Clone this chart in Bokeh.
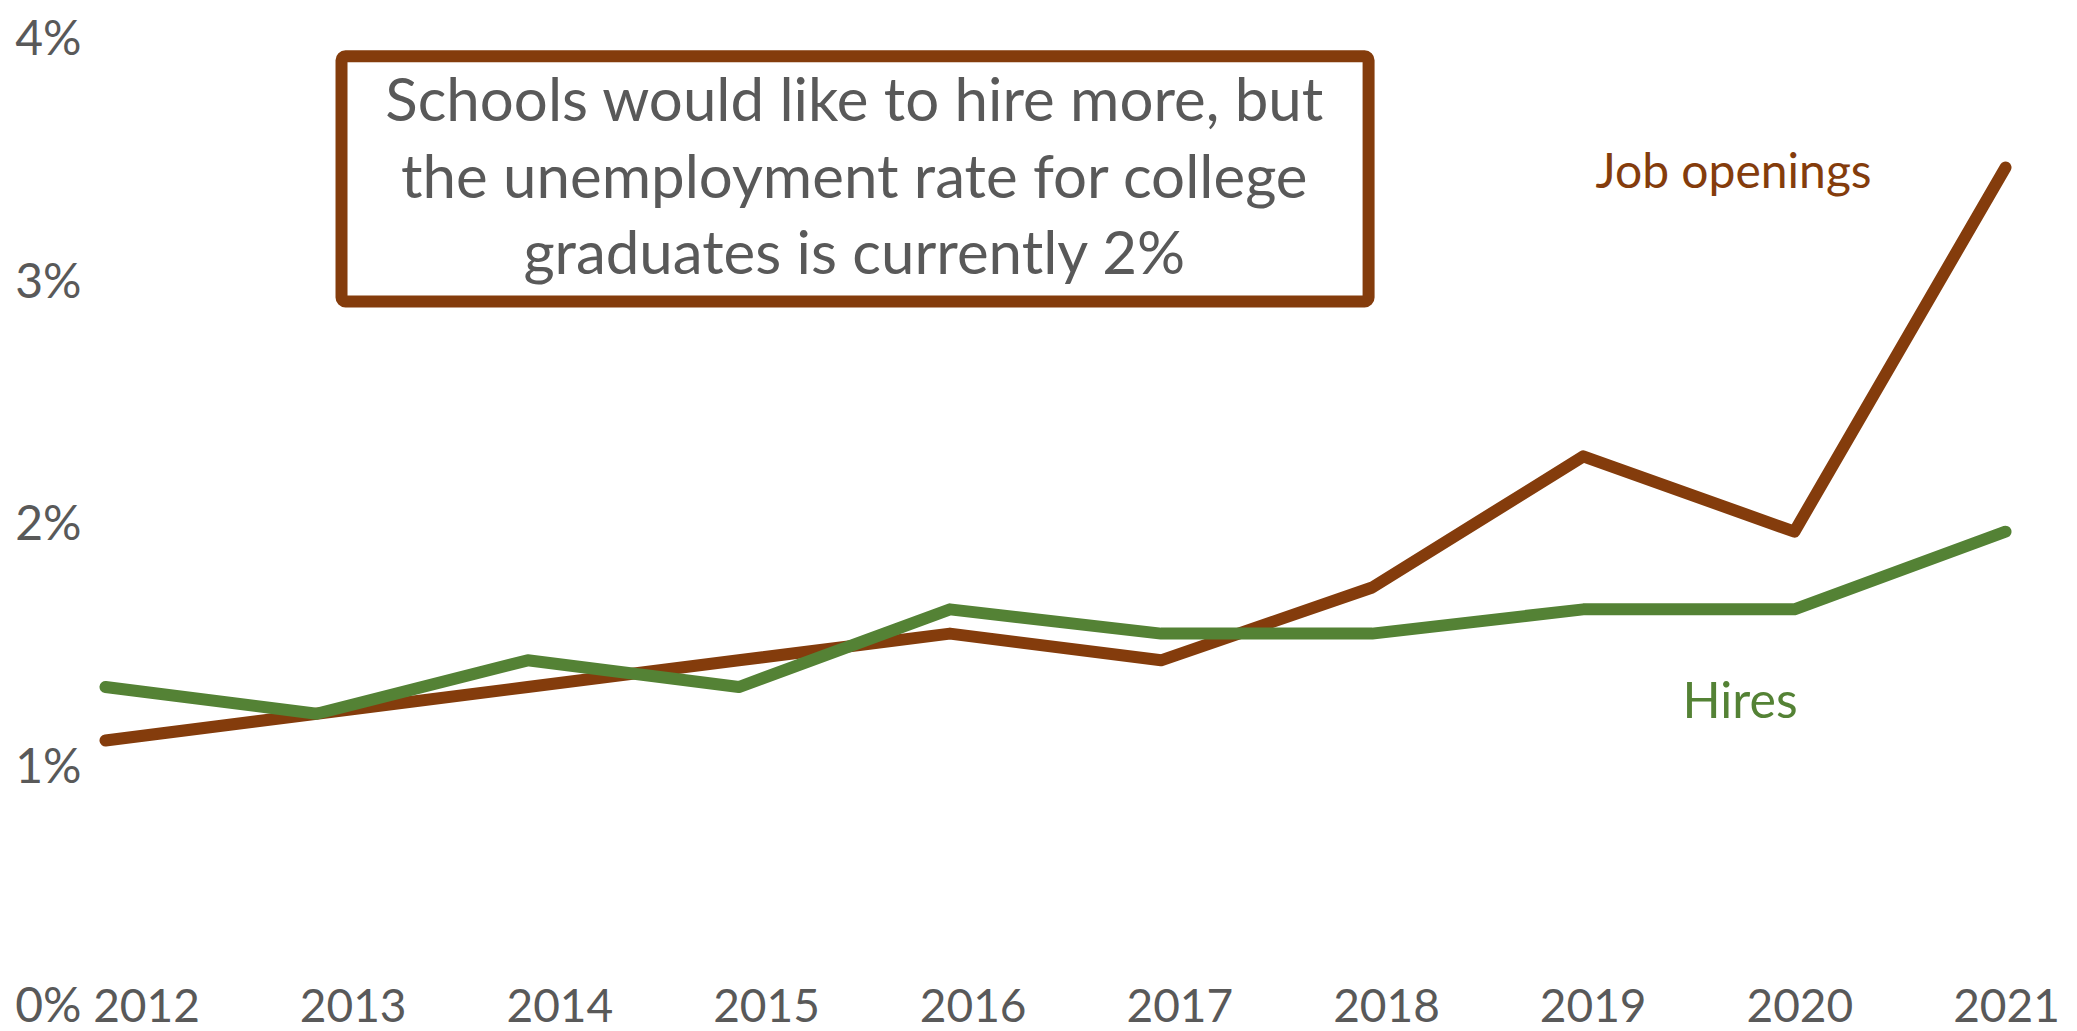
from bokeh.plotting import figure
from bokeh.models import (Range1d, LinearAxis, FixedTicker, PrintfTickFormatter,
                          BoxAnnotation, Label)
from bokeh.embed import file_html
from bokeh.resources import INLINE

# ---- data ----
years = [2012, 2013, 2014, 2015, 2016, 2017, 2018, 2019, 2020, 2021]
job_openings = [1.10, 1.21, 1.32, 1.43, 1.54, 1.43, 1.73, 2.27, 1.96, 3.46]
hires = [1.32, 1.21, 1.43, 1.32, 1.64, 1.54, 1.54, 1.64, 1.64, 1.96]
y_ticks = [0, 1, 2, 3, 4]
note_lines = ["Schools would like to hire more, but",
              "the unemployment rate for college",
              "graduates is currently 2%"]
series_names = ["Job openings", "Hires"]

BROWN = "#843C0C"
GREEN = "#548235"
GREY = "#595959"
FONT = "Lato"

p = figure(width=2077, height=1031, output_backend="svg", toolbar_location=None,
           x_range=Range1d(2011.929, 2021.341), y_range=Range1d(-0.099, 4.148),
           x_axis_type=None, min_border_left=90, min_border_right=0,
           min_border_top=0, min_border_bottom=0)
p.outline_line_color = None
p.background_fill_color = "white"
p.border_fill_color = "white"
p.xgrid.visible = False
p.ygrid.visible = False

# y axis
ya = p.yaxis[0]
ya.ticker = FixedTicker(ticks=y_ticks)
ya.formatter = PrintfTickFormatter(format="%d%%")
ya.axis_line_color = None
ya.major_tick_line_color = None
ya.minor_tick_line_color = None
ya.major_label_standoff = 3
ya.major_label_text_font = FONT
ya.major_label_text_font_size = "48px"
ya.major_label_text_color = GREY

# x axis (category labels sit on the zero line)
p.extra_x_ranges = {"labels": Range1d(2011.729, 2021.3435)}
xa = LinearAxis(x_range_name="labels", ticker=FixedTicker(ticks=years),
                formatter=PrintfTickFormatter(format="%d"))
xa.fixed_location = 0
xa.axis_line_color = None
xa.major_tick_line_color = None
xa.minor_tick_line_color = None
xa.major_label_standoff = -24
xa.major_label_text_font = FONT
xa.major_label_text_font_size = "46px"
xa.major_label_text_color = GREY
p.add_layout(xa, "below")

# lines
p.line(years, job_openings, line_width=12, line_color=BROWN,
       line_cap="round", line_join="round")
p.line(years, hires, line_width=12, line_color=GREEN,
       line_cap="round", line_join="round")

# annotation box
box = BoxAnnotation(left=2013.118, right=2017.983, bottom=2.908, top=3.918,
                    fill_color="white", fill_alpha=1.0,
                    line_color=BROWN, line_width=12, line_alpha=1.0,
                    border_radius=4)
p.add_layout(box)
for txt, yy in zip(note_lines, [3.745, 3.428, 3.115]):
    p.add_layout(Label(x=2015.55, y=yy, text=txt, text_align="center",
                       text_baseline="alphabetic", text_font=FONT,
                       text_font_size="60px", text_color=GREY))

# series labels
p.add_layout(Label(x=2019.058, y=3.45, text=series_names[0], text_align="left",
                   text_baseline="alphabetic", text_font=FONT,
                   text_font_size="48px", text_color=BROWN))
p.add_layout(Label(x=2019.47, y=1.272, text=series_names[1], text_align="left",
                   text_baseline="alphabetic", text_font=FONT,
                   text_font_size="50px", text_color=GREEN))

open("out.html", "w").write(file_html(p, INLINE))
